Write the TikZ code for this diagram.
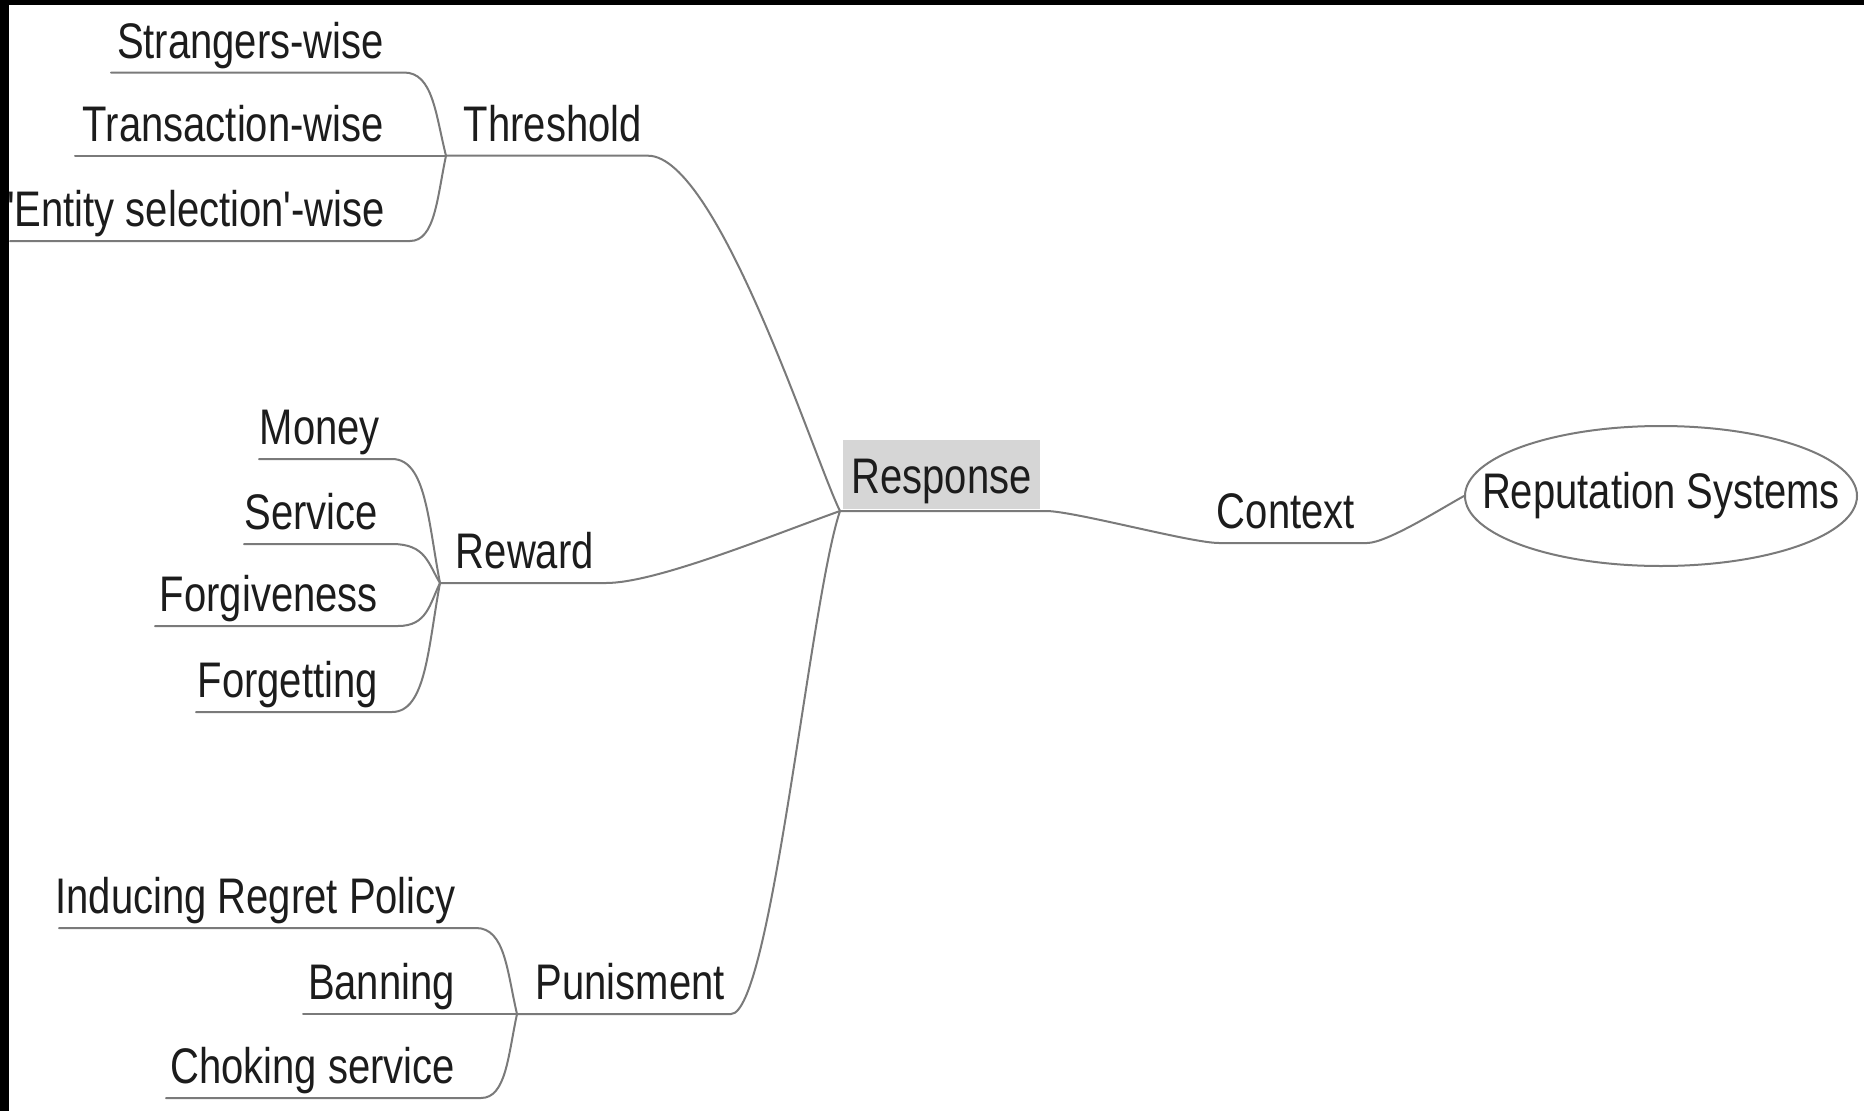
\documentclass[tikz,border=0pt]{standalone}
\usepackage{fontspec}
\setmainfont{Liberation Sans}
\usetikzlibrary{shapes.geometric}

\definecolor{edge}{HTML}{7A7A7A}
\definecolor{txt}{HTML}{1C1C1C}
\definecolor{boxgray}{HTML}{D6D6D6}

% tall, narrow lettering
\newcommand\tall[1]{\scalebox{1}[1.25]{#1}}

\begin{document}
\begin{tikzpicture}[x=1pt,y=-1pt,
  lbl/.style={anchor=base east, inner sep=0pt, text=txt,
              font=\fontsize{40}{48}\selectfont},
  branch/.style={draw=edge, line width=2pt, line cap=round},
]
\useasboundingbox (0,0) rectangle (1864,1111);
\fill[white] (0,0) rectangle (1864,1111);
\fill[black] (0,0) rectangle (1864,5);
\fill[black] (0,0) rectangle (9,1111);

% ---------- junction points ----------
\coordinate (jR) at (840,511);
\coordinate (jT) at (446,155.7);
\coordinate (jW) at (440,583);
\coordinate (jP) at (517,1014);

% ---------- Threshold ----------
\node[lbl] (thr) at (642,141) {\tall{Threshold}};
\coordinate (thrE) at (648,155.7);
\node[lbl] (str) at (384,58) {\tall{Strangers-wise}};
\coordinate (strL) at (111,72.5);  \coordinate (strE) at (404,72.5);
\node[lbl] (tra) at (384,141) {\tall{Transaction-wise}};
\coordinate (traL) at (75,155.7);
\node[lbl] (ent) at (385,226) {\tall{\textquotesingle Entity selection\textquotesingle-wise}};
\coordinate (entL) at (10,241);    \coordinate (entE) at (410,241);

\draw[branch] (strL) -- (strE) .. controls +(29,0) and +(-10.5,-41.6) .. (jT);
\draw[branch] (traL) -- (jT);
\draw[branch] (entL) -- (entE) .. controls +(25,0) and +(-9,42.6) .. (jT);
\draw[branch] (jT) -- (thrE) .. controls +(70,0) and +(-25,-50) .. (jR);

% ---------- Reward ----------
\node[lbl] (rew) at (594,568) {\tall{Reward}};
\coordinate (rewE) at (606,583);
\node[lbl] (mon) at (380,444) {\tall{Money}};
\coordinate (monL) at (259,459);  \coordinate (monE) at (392,459);
\node[lbl] (ser) at (378,529) {\tall{Service}};
\coordinate (serL) at (244,544);  \coordinate (serE) at (392,544);
\node[lbl] (fgv) at (378,611) {\tall{Forgiveness}};
\coordinate (fgvL) at (155,626);  \coordinate (fgvE) at (398,626);
\node[lbl] (fgt) at (378,697) {\tall{Forgetting}};
\coordinate (fgtL) at (196,712);  \coordinate (fgtE) at (392,712);

\draw[branch] (monL) -- (monE) .. controls +(34,0) and +(-12,-62) .. (jW);
\draw[branch] (serL) -- (serE) .. controls +(34,0) and +(-12,-19.5) .. (jW);
\draw[branch] (fgvL) -- (fgvE) .. controls +(29,0) and +(-10.5,21.5) .. (jW);
\draw[branch] (fgtL) -- (fgtE) .. controls +(34,0) and +(-12,64.5) .. (jW);
\draw[branch] (jW) -- (rewE) .. controls +(50,0) and +(-70,25) .. (jR);

% ---------- Punisment ----------
\node[lbl] (pun) at (725,999) {\tall{Punisment}};
\coordinate (punE) at (731,1014);
\node[lbl] (ind) at (456,913) {\tall{Inducing Regret Policy}};
\coordinate (indL) at (59,928);   \coordinate (indE) at (476,928);
\node[lbl] (ban) at (455,999) {\tall{Banning}};
\coordinate (banL) at (303,1014);
\node[lbl] (cho) at (455,1083) {\tall{Choking service}};
\coordinate (choL) at (166,1098); \coordinate (choE) at (481,1098);

\draw[branch] (indL) -- (indE) .. controls +(29,0) and +(-10,-43) .. (jP);
\draw[branch] (banL) -- (jP);
\draw[branch] (choL) -- (choE) .. controls +(25,0) and +(-9,42) .. (jP);
\draw[branch] (jP) -- (punE) .. controls +(40,0) and +(-30,89) .. (jR);

% ---------- Response, Context, root ----------
\node[anchor=base, fill=boxgray, text=txt, font=\fontsize{40}{48}\selectfont,
      inner xsep=8.5pt, inner ysep=6pt, text height=47pt, text depth=10pt]
      (resp) at (941.5,493) {\tall{Response}};
\coordinate (respE) at (1046,511);

\node[lbl] (ctx) at (1355,528) {\tall{Context}};
\coordinate (ctxL) at (1219,543); \coordinate (ctxE) at (1367,543);

\node[ellipse, draw=edge, line width=2pt, minimum width=392pt, minimum height=140pt,
      inner xsep=-45pt, inner ysep=10pt,
      text=txt, font=\fontsize{40}{48}\selectfont]
      (root) at (1661,496) {\tall{Reputation Systems}};

\draw[branch] (jR) -- (respE) .. controls +(28,0) and +(-28,0) .. (ctxL) -- (ctxE)
      .. controls +(20,0) and +(-22,12) .. (root.west);
\end{tikzpicture}
\end{document}
